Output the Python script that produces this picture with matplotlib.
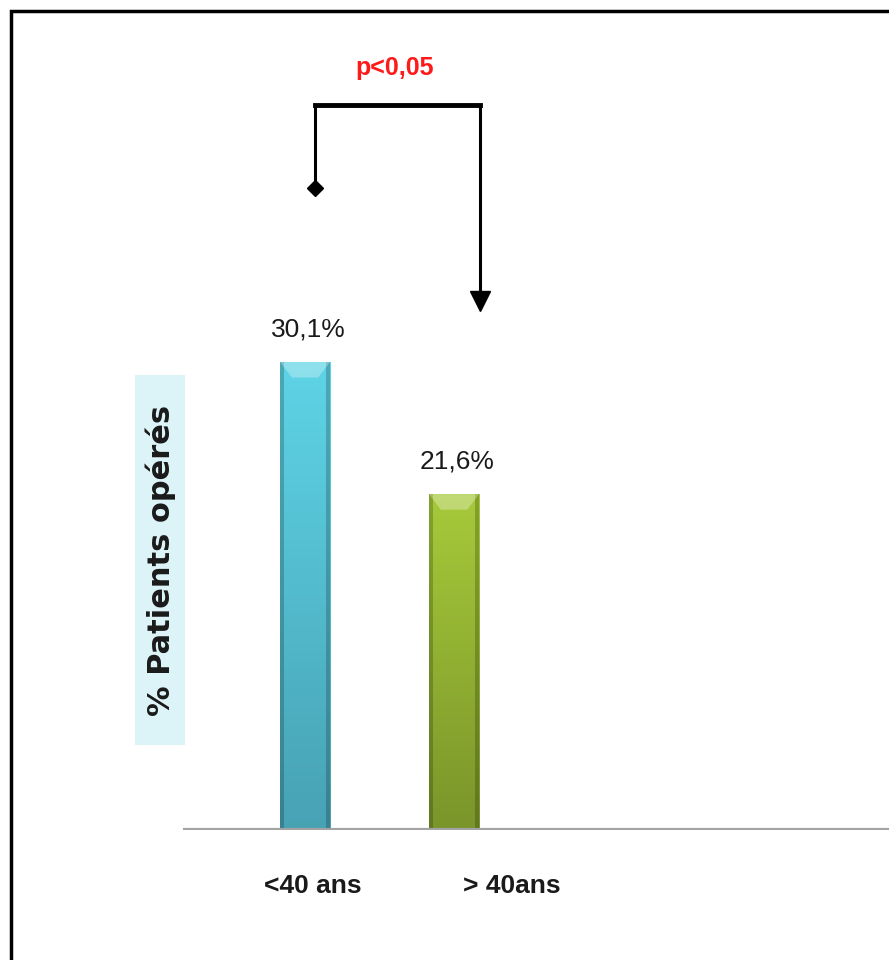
import numpy as np
import matplotlib.pyplot as plt
from matplotlib.colors import LinearSegmentedColormap
from matplotlib.patches import Polygon, Rectangle
from matplotlib.lines import Line2D

groupes = ['<40 ans', '> 40ans']
pourcentages = [30.1, 21.6]
etiquettes = ['30,1%', '21,6%']
couleurs_haut = ['#5ed4e6', '#a6ca3a']
couleurs_bas = ['#47a2b4', '#7a952a']
p_texte = 'p<0,05'

W, H = 889, 960
fig = plt.figure(figsize=(W / 100, H / 100), dpi=100)
fig.patch.set_facecolor('white')

# axes: baseline at y=830 px, 1 % = 15.55 px
ax = fig.add_axes([183 / W, 130 / H, 706 / W, 777.5 / H])
ax.axis('off')

police = ['Liberation Sans', 'DejaVu Sans']
largeur = 0.336
x = np.arange(len(groupes))

for i, (xi, v) in enumerate(zip(x, pourcentages)):
    bar = ax.bar(xi, v, width=largeur, color=couleurs_bas[i], zorder=2)[0]
    cmap = LinearSegmentedColormap.from_list('g', [couleurs_bas[i], couleurs_haut[i]])
    grad = np.linspace(0, 1, 256).reshape(-1, 1)
    im = ax.imshow(grad, extent=(xi - largeur / 2, xi + largeur / 2, 0, v),
                   origin='lower', aspect='auto', cmap=cmap, zorder=3)
    im.set_clip_path(bar)
    # darker sides
    for dx in (-largeur / 2, largeur / 2 - 0.03):
        ax.bar(xi + dx + 0.015, v, width=0.03, color='black', alpha=0.2, zorder=4, linewidth=0)
    # bevel at the top of the bar
    ins = 0.08
    bev = 1.0
    ax.add_patch(Polygon([[xi - largeur / 2, v], [xi + largeur / 2, v],
                          [xi + largeur / 2 - ins, v - bev], [xi - largeur / 2 + ins, v - bev]],
                         closed=True, fc='white', alpha=0.3, ec='none', zorder=5))
    ax.text(xi + 0.02, v + 1.3, etiquettes[i], ha='center', va='bottom',
            fontsize=19, family=police, color='#1a1a1a')

ax.set_ylim(0, 50)
ax.set_xlim(-0.819, 3.919)

# baseline
ax.axhline(0, color='#a3a3a3', lw=3, zorder=6)

# category labels under the axis
for xi, lab in zip([0.05, 1.39], groupes):
    ax.text(xi, -3.6, lab, ha='center', va='center', fontsize=19,
            fontweight='bold', family=police, color='#1a1a1a', clip_on=False)

# significance bracket
xl, xr, yh = 0.067, 1.174, 46.6
ax.plot([xl, xl, xr, xr], [41.4, yh, yh, 34.6], color='black', lw=2.2,
        solid_joinstyle='miter', clip_on=False, zorder=7)
ax.plot([xl, xr], [yh, yh], color='black', lw=3.5, clip_on=False, zorder=7)
ax.plot(xl, 41.3, marker='D', ms=8, color='black', clip_on=False, zorder=8)
ax.plot(xr, 34.0, marker='v', ms=14, color='black', clip_on=False, zorder=8)
ax.text((xl + xr) / 2 - 0.02, 49.0, p_texte, ha='center', va='center',
        fontsize=18, fontweight='bold', family=police, color='#ff1a1a', clip_on=False)

# y label on a light cyan box
fig.add_artist(Rectangle((135 / W, 1 - 745 / H), 50 / W, 370 / H, fc='#dcf4f8',
                         ec='none', transform=fig.transFigure, zorder=0))
fig.text(161 / W, 1 - 560 / H, '% Patients opérés', rotation=90, ha='center',
         va='center', fontsize=22, fontweight='bold', color='#1a1a1a')

# frame (top and left sides)
bx, by = 11 / W, 1 - 11 / H
fig.add_artist(Line2D([bx, bx, 1.0], [0.0, by, by], color='black', lw=2.5,
                      solid_joinstyle='miter', transform=fig.transFigure))

fig.savefig('out.png', dpi=100, facecolor='white')
